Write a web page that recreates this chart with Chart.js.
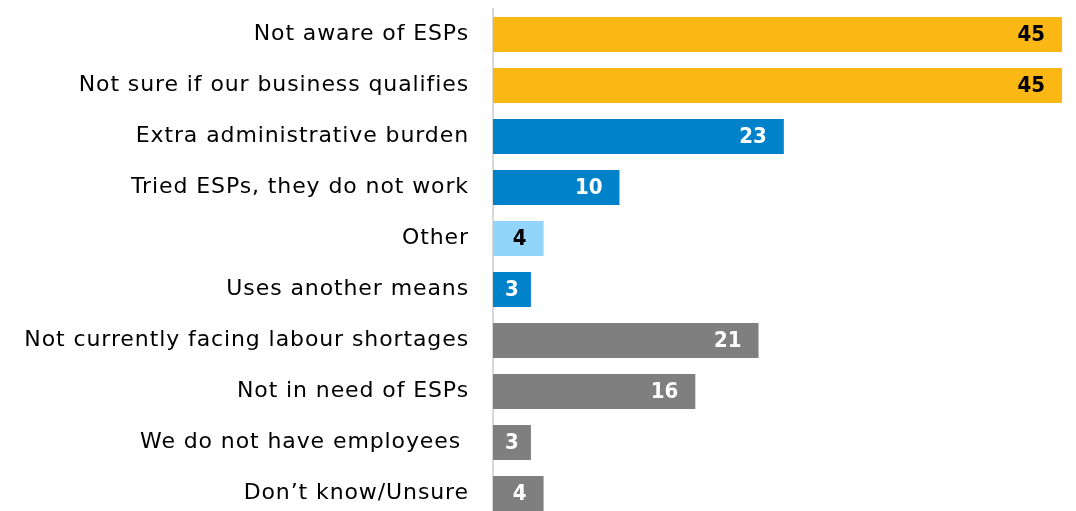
<!DOCTYPE html>
<html>
<head>
<meta charset="utf-8">
<script src="https://cdn.jsdelivr.net/npm/chart.js@4/dist/chart.umd.min.js"></script>
<style>
  html, body { margin: 0; padding: 0; background: #ffffff; overflow: hidden; }
  #wrap { position: relative; width: 1076px; height: 519px; }
</style>
</head>
<body>
<div id="wrap"><canvas id="chart"></canvas></div>
<script>
// Reasons for not using ESPs (share of respondents)
const categories = [
  "Not aware of ESPs",
  "Not sure if our business qualifies",
  "Extra administrative burden",
  "Tried ESPs, they do not work",
  "Other",
  "Uses another means",
  "Not currently facing labour shortages",
  "Not in need of ESPs",
  "We do not have employees ",
  "Don\u2019t know/Unsure"
];
const values = [45, 45, 23, 10, 4, 3, 21, 16, 3, 4];

// Bar fill and value-label colour per category
const YELLOW = "#FBB814", BLUE = "#0082CA", LIGHT = "#93D5FA", GREY = "#7F7F7F";
const barColors = [YELLOW, YELLOW, BLUE, BLUE, LIGHT, BLUE, GREY, GREY, GREY, GREY];
const labelColors = ["#000", "#000", "#fff", "#fff", "#000", "#fff", "#fff", "#fff", "#fff", "#fff"];

const LABEL_FONT = "'DejaVu Sans', sans-serif";
const VALUE_FONT = "bold 22px 'DejaVu Sans Condensed', 'DejaVu Sans', sans-serif";

// Slightly looser tracking for the category labels
const labelTracking = {
  id: "labelTracking",
  beforeDraw(chart) { chart.ctx.letterSpacing = "0.9px"; },
  afterDraw(chart) { chart.ctx.letterSpacing = "0px"; }
};

// Writes each value inside the end of its bar
const valueLabels = {
  id: "valueLabels",
  afterDatasetsDraw(chart) {
    const ctx = chart.ctx;
    const meta = chart.getDatasetMeta(0);
    ctx.save();
    ctx.letterSpacing = "0px";
    ctx.font = VALUE_FONT;
    ctx.textBaseline = "middle";
    meta.data.forEach((bar, i) => {
      const txt = String(values[i]);
      const w = ctx.measureText(txt).width;
      const left = bar.base, right = bar.x;
      let x;
      if (right - left >= w + 36) {
        ctx.textAlign = "right";
        x = right - 17;
      } else {
        ctx.textAlign = "center";
        x = (left + right) / 2;
      }
      ctx.fillStyle = labelColors[i];
      ctx.fillText(txt, x, bar.y + 1);
    });
    ctx.restore();
  }
};

new Chart(document.getElementById("chart"), {
  type: "bar",
  data: {
    labels: categories,
    datasets: [{
      data: values,
      backgroundColor: barColors,
      borderWidth: 0,
      categoryPercentage: 0.69,
      barPercentage: 1.0
    }]
  },
  options: {
    indexAxis: "y",
    responsive: true,
    maintainAspectRatio: false,
    animation: false,
    layout: { padding: { top: 9, right: 14, bottom: 0, left: 0 } },
    plugins: {
      legend: { display: false },
      tooltip: { enabled: false }
    },
    scales: {
      x: {
        display: false,
        min: 0,
        max: 45
      },
      y: {
        afterFit(scale) {
          scale.width = 493;
          scale.paddingTop = 0;
          scale.paddingBottom = 0;
        },
        grid: { display: false, drawTicks: false },
        border: { display: true, color: "#D9D9D9", width: 2 },
        ticks: {
          padding: 24,
          color: "#000000",
          font: { family: LABEL_FONT, size: 22 }
        }
      }
    }
  },
  plugins: [labelTracking, valueLabels]
});
</script>
</body>
</html>
